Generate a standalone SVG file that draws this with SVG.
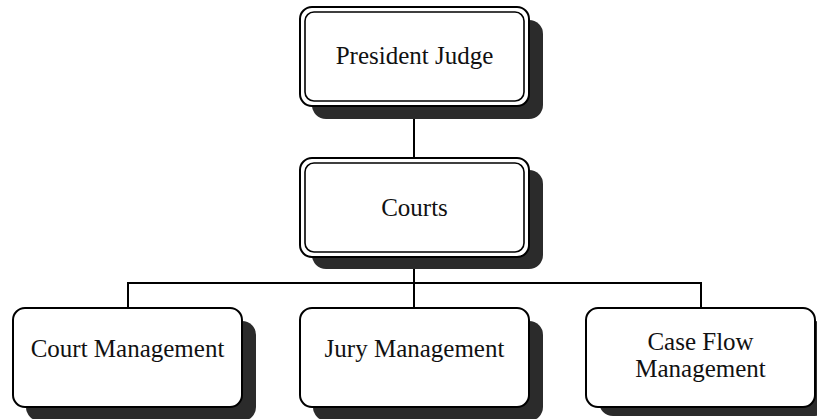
<svg xmlns="http://www.w3.org/2000/svg" width="817" height="419" viewBox="0 0 817 419">
  <style>
    .shadow { fill: #2b2b2b; stroke: none; }
    .box { fill: #ffffff; stroke: #000000; stroke-width: 2; }
    .inner { fill: none; stroke: #000000; stroke-width: 1.6; }
    .wire { fill: none; stroke: #000000; stroke-width: 2; }
    .label { font-family: "Liberation Serif", "Times New Roman", serif; font-size: 25px; fill: #111111; text-anchor: middle; }
  </style>
  <rect width="817" height="419" fill="#ffffff"/>

  <!-- connectors -->
  <g id="connectors">
    <line class="wire" x1="414" y1="106" x2="414" y2="158"/>
    <line class="wire" x1="414" y1="257" x2="414" y2="308"/>
    <polyline class="wire" points="128,308 128,283 701,283 701,308"/>
  </g>

  <!-- top node -->
  <g id="president-judge">
    <rect class="shadow" x="312" y="20" width="231" height="99" rx="14"/>
    <rect class="box" x="300" y="7" width="229" height="99" rx="12"/>
    <rect class="inner" x="305" y="12" width="219" height="89" rx="9"/>
    <text class="label" x="414.5" y="64">President Judge</text>
  </g>

  <g id="courts">
    <rect class="shadow" x="312" y="170" width="231" height="99" rx="14"/>
    <rect class="box" x="300" y="158" width="229" height="99" rx="12"/>
    <rect class="inner" x="305" y="163" width="219" height="89" rx="9"/>
    <text class="label" x="414.5" y="216">Courts</text>
  </g>

  <!-- third level -->
  <g id="court-management">
    <rect class="shadow" x="26" y="321" width="230" height="100" rx="14"/>
    <rect class="box" x="13" y="308" width="229" height="99" rx="12"/>
    <text class="label" x="127.5" y="357">Court Management</text>
  </g>

  <g id="jury-management">
    <rect class="shadow" x="313" y="321" width="230" height="100" rx="14"/>
    <rect class="box" x="300" y="308" width="229" height="99" rx="12"/>
    <text class="label" x="414.5" y="357">Jury Management</text>
  </g>

  <g id="case-flow-management">
    <rect class="shadow" x="599" y="321" width="230" height="95" rx="14"/>
    <rect class="box" x="586" y="308" width="229" height="99" rx="12"/>
    <text class="label" x="700.5" y="350">Case Flow</text>
    <text class="label" x="700.5" y="377">Management</text>
  </g>
</svg>
